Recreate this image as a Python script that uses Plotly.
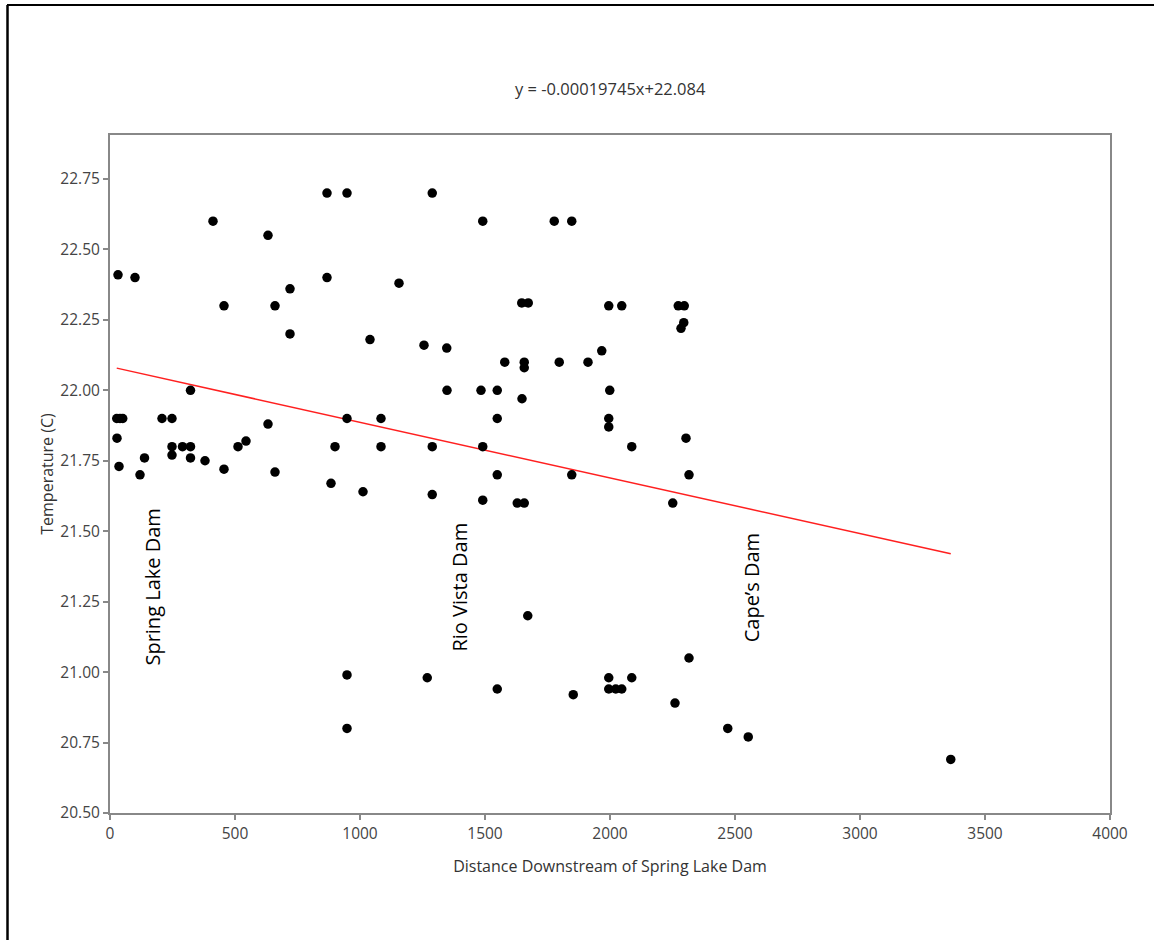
import plotly.graph_objects as go

# Distance downstream (x) and temperature (y)
distance = [32, 100, 27, 40, 51, 28, 36, 120, 138, 208, 248, 248, 248, 290, 322, 322, 322,
            380, 412, 456, 456, 512, 544, 632, 632, 660, 660, 720, 720, 868, 868, 884, 900,
            948, 948, 948, 948, 1012, 1040, 1084, 1084, 1156,
            1289, 1491, 1777, 1847, 1647, 1673, 1995, 2047, 2273, 2297, 2295, 2284,
            1256, 1347, 1967, 1579, 1657, 1657, 1797, 1912, 1348, 1484, 1549, 1999, 1648,
            1549, 1995, 1995, 2304, 1289, 1491, 2087, 1549, 1847, 2316, 1289,
            1491, 1629, 1657, 2251, 1671, 2316, 1269, 1995, 2087, 1549, 1995, 2023, 2047,
            1853, 2260, 2471, 2553, 3363]
temperature = [22.41, 22.40, 21.90, 21.90, 21.90, 21.83, 21.73, 21.70, 21.76, 21.90, 21.90, 21.80, 21.77, 21.80, 21.80, 21.76, 22.00,
               21.75, 22.60, 22.30, 21.72, 21.80, 21.82, 22.55, 21.88, 22.30, 21.71, 22.36, 22.20, 22.70, 22.40, 21.67, 21.80,
               22.70, 21.90, 20.99, 20.80, 21.64, 22.18, 21.90, 21.80, 22.38,
               22.70, 22.60, 22.60, 22.60, 22.31, 22.31, 22.30, 22.30, 22.30, 22.30, 22.24, 22.22,
               22.16, 22.15, 22.14, 22.10, 22.10, 22.08, 22.10, 22.10, 22.00, 22.00, 22.00, 22.00, 21.97,
               21.90, 21.90, 21.87, 21.83, 21.80, 21.80, 21.80, 21.70, 21.70, 21.70, 21.63,
               21.61, 21.60, 21.60, 21.60, 21.20, 21.05, 20.98, 20.98, 20.98, 20.94, 20.94, 20.94, 20.94,
               20.92, 20.89, 20.80, 20.77, 20.69]

slope = -0.00019745
intercept = 22.084

dam_names = ["Spring Lake Dam", "Rio Vista Dam", "Cape\u2019s Dam"]
dam_x = [172, 1400, 2567]
dam_y = [21.30, 21.30, 21.30]

x_ticks = [0, 500, 1000, 1500, 2000, 2500, 3000, 3500, 4000]
y_ticks = [20.50, 20.75, 21.00, 21.25, 21.50, 21.75, 22.00, 22.25, 22.50, 22.75]

xmin, xmax = min(distance), max(distance)
fit_x = [xmin, xmax]
fit_y = [slope * v + intercept for v in fit_x]

FONT = "Open Sans"

fig = go.Figure()
fig.add_trace(go.Scatter(x=fit_x, y=fit_y, mode="lines",
                         line=dict(color="#ff2020", width=1.5), hoverinfo="skip"))
fig.add_trace(go.Scatter(x=distance, y=temperature, mode="markers",
                         marker=dict(color="black", size=9.5)))

for name, dx, dy in zip(dam_names, dam_x, dam_y):
    fig.add_annotation(x=dx, y=dy, text=name, textangle=-90, showarrow=False,
                       xanchor="center", yanchor="middle",
                       font=dict(family=FONT, size=20, color="black"))

fig.add_annotation(x=0.5, y=1.0 + (135 - 88) / 678, xref="paper", yref="paper",
                   text="y = -0.00019745x+22.084", showarrow=False,
                   xanchor="center", yanchor="middle",
                   font=dict(family=FONT, size=16.5, color="#333333"))

# outer document border (top and left)
fig.add_shape(type="line", xref="paper", yref="paper", x0=-0.103, x1=1.05,
              y0=(813 - 5) / 678, y1=(813 - 5) / 678, line=dict(color="black", width=2))
fig.add_shape(type="line", xref="paper", yref="paper", x0=-0.1025, x1=-0.1025,
              y0=(813 - 5) / 678, y1=-0.2, line=dict(color="black", width=2.5))

axis_common = dict(showgrid=False, zeroline=False, showline=True, linecolor="#888888",
                   linewidth=2, mirror=True, ticks="outside", ticklen=5, tickcolor="#888888",
                   tickwidth=1.5,
                   tickfont=dict(family=FONT, size=15.5, color="#444444"),
                   title_font=dict(family=FONT, size=16, color="#333333"))

fig.update_xaxes(range=[0, 4000], tickvals=x_ticks, ticktext=[str(v) for v in x_ticks],
                 title_text="Distance Downstream of Spring Lake Dam", title_standoff=18,
                 **axis_common)
fig.update_yaxes(range=[20.5, 22.906], tickvals=y_ticks,
                 ticktext=[f"{v:.2f}" for v in y_ticks],
                 title_text="Temperature (C)", title_standoff=3, **axis_common)

fig.update_layout(width=1154, height=940, showlegend=False,
                  margin=dict(l=110, r=44, t=135, b=127),
                  paper_bgcolor="white", plot_bgcolor="white")

fig.write_html("out.html", config={"displayModeBar": False},
               post_script="document.body.style.margin='0';document.body.style.overflow='hidden';")
